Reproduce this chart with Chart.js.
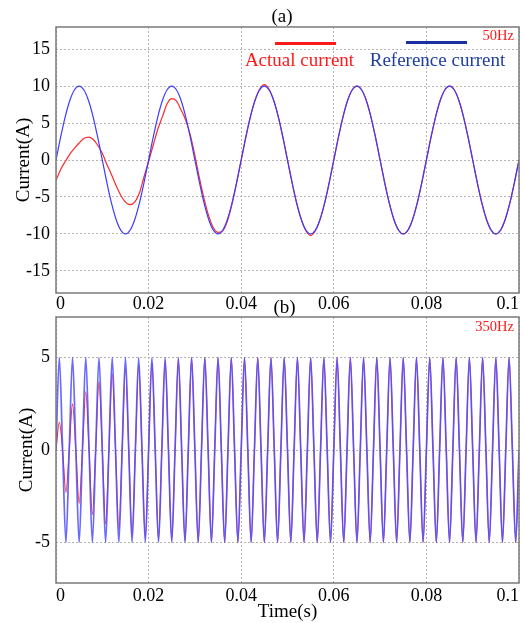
<!DOCTYPE html>
<html>
<head>
<meta charset="utf-8">
<script src="https://cdn.jsdelivr.net/npm/chart.js@4.4.1/dist/chart.umd.min.js"></script>
<style>
  body { margin: 0; background: #fff; }
  .wrap { position: relative; width: 524px; height: 623px; }
  #chartA { position: absolute; left: 0; top: 0; }
  #chartB { position: absolute; left: 0; top: 300px; }
</style>
</head>
<body>
<div class="wrap">
  <canvas id="chartA" width="524" height="310"></canvas>
  <canvas id="chartB" width="524" height="323"></canvas>
</div>
<script>
// (a) 50Hz, one sample every 1 ms
const dtA = 0.001;
const refA = [
  0, 3.09, 5.88, 8.09, 9.51, 10, 9.51, 8.09, 5.88, 3.09, 0, -3.09, -5.88, -8.09, -9.51, -10, -9.51, -8.09, -5.88, -3.09,
  0, 3.09, 5.88, 8.09, 9.51, 10, 9.51, 8.09, 5.88, 3.09, 0, -3.09, -5.88, -8.09, -9.51, -10, -9.51, -8.09, -5.88, -3.09,
  0, 3.09, 5.88, 8.09, 9.51, 10, 9.51, 8.09, 5.88, 3.09, 0, -3.09, -5.88, -8.09, -9.51, -10, -9.51, -8.09, -5.88, -3.09,
  0, 3.09, 5.88, 8.09, 9.51, 10, 9.51, 8.09, 5.88, 3.09, 0, -3.09, -5.88, -8.09, -9.51, -10, -9.51, -8.09, -5.88, -3.09,
  0, 3.09, 5.88, 8.09, 9.51, 10, 9.51, 8.09, 5.88, 3.09, 0, -3.09, -5.88, -8.09, -9.51, -10, -9.51, -8.09, -5.88, -3.09,
  0
];
const actA = [
  -2.8, -1.3, -0.2, 0.8, 1.6, 2.3, 2.9, 3.1, 2.8, 2.0, 0.9, -0.6, -2.0, -3.5, -4.8, -5.7, -6.05, -5.7, -4.5, -2.3,
  -0.2, 2.0, 4.2, 5.9, 7.6, 8.3, 8.0, 6.8, 5.4, 3.4, 0.6, -2.5, -5.3, -7.6, -9.2, -9.8, -9.6, -8.3, -6.0, -3.1,
  0, 3.1, 5.9, 8.1, 9.6, 10.2, 9.6, 8.1, 5.9, 3.1, 0, -3.1, -5.9, -8.1, -9.6, -10.2, -9.6, -8.1, -5.9, -3.1,
  0, 3.09, 5.88, 8.09, 9.51, 10, 9.51, 8.09, 5.88, 3.09, 0, -3.09, -5.88, -8.09, -9.51, -10, -9.51, -8.09, -5.88, -3.09,
  0, 3.09, 5.88, 8.09, 9.51, 10, 9.51, 8.09, 5.88, 3.09, 0, -3.09, -5.88, -8.09, -9.51, -10, -9.51, -8.09, -5.88, -3.09,
  0
];

// (b) 350Hz, one sample every quarter period
const dtB = 1 / 1400;
const refB = [
  0, 5, 0, -5, 0, 5, 0, -5, 0, 5, 0, -5, 0, 5, 0, -5, 0, 5, 0, -5,
  0, 5, 0, -5, 0, 5, 0, -5, 0, 5, 0, -5, 0, 5, 0, -5, 0, 5, 0, -5,
  0, 5, 0, -5, 0, 5, 0, -5, 0, 5, 0, -5, 0, 5, 0, -5, 0, 5, 0, -5,
  0, 5, 0, -5, 0, 5, 0, -5, 0, 5, 0, -5, 0, 5, 0, -5, 0, 5, 0, -5,
  0, 5, 0, -5, 0, 5, 0, -5, 0, 5, 0, -5, 0, 5, 0, -5, 0, 5, 0, -5,
  0, 5, 0, -5, 0, 5, 0, -5, 0, 5, 0, -5, 0, 5, 0, -5, 0, 5, 0, -5,
  0, 5, 0, -5, 0, 5, 0, -5, 0, 5, 0, -5, 0, 5, 0, -5, 0, 5, 0, -5,
  0
];
const actB = [
  0, 1.5, 0, -2.3, 0, 2.5, 0, -2.9, 0, 3.15, 0, -3.5, 0, 3.7, 0, -4.0, 0, 4.15, 0, -4.3,
  0, 4.4, 0, -4.6, 0, 4.6, 0, -4.75, 0, 4.75, 0, -4.85, 0, 4.85, 0, -4.9, 0, 4.9, 0, -4.95,
  0, 5, 0, -5, 0, 5, 0, -5, 0, 5, 0, -5, 0, 5, 0, -5, 0, 5, 0, -5,
  0, 5, 0, -5, 0, 5, 0, -5, 0, 5, 0, -5, 0, 5, 0, -5, 0, 5, 0, -5,
  0, 5, 0, -5, 0, 5, 0, -5, 0, 5, 0, -5, 0, 5, 0, -5, 0, 5, 0, -5,
  0, 5, 0, -5, 0, 5, 0, -5, 0, 5, 0, -5, 0, 5, 0, -5, 0, 5, 0, -5,
  0, 5, 0, -5, 0, 5, 0, -5, 0, 5, 0, -5, 0, 5, 0, -5, 0, 5, 0, -5,
  0
];

const xTicks = [0, 0.02, 0.04, 0.06, 0.08, 0.1];
const yTicksA = [-15, -10, -5, 0, 5, 10, 15];
const yTicksB = [-5, 0, 5];

const serif = 'Liberation Serif';
const toPts = (vals, dt) => vals.map((v, i) => ({ x: i * dt, y: v }));

// frame round the plot + free texts / legend marks
const decor = {
  id: 'decor',
  afterDatasetsDraw(chart, args, opts) {
    const { ctx, chartArea: a } = chart;
    ctx.save();
    ctx.strokeStyle = '#7a7a7a';
    ctx.lineWidth = 1.5;
    ctx.strokeRect(a.left, a.top, a.right - a.left, a.bottom - a.top);
    (opts.lines || []).forEach(l => {
      ctx.strokeStyle = l.color;
      ctx.lineWidth = l.width;
      ctx.beginPath();
      ctx.moveTo(l.x1, l.y);
      ctx.lineTo(l.x2, l.y);
      ctx.stroke();
    });
    (opts.texts || []).forEach(t => {
      ctx.font = t.size + 'px "' + serif + '"';
      ctx.fillStyle = t.color;
      ctx.textAlign = t.align || 'center';
      ctx.textBaseline = 'middle';
      ctx.fillText(t.text, t.x, t.y);
    });
    ctx.restore();
  }
};

function makeScales(yMin, yMax, yTicks, xHeight, xTitle, yTitlePad, xPad) {
  const grid = { color: '#b4b4b4', drawTicks: false };
  const border = { display: false, dash: [2, 2] };
  return {
    x: {
      type: 'linear', min: 0, max: 0.1,
      afterBuildTicks: s => { s.ticks = xTicks.map(v => ({ value: v })); },
      afterFit: s => { s.height = xHeight; },
      grid: grid, border: border,
      ticks: {
        color: '#000', font: { family: serif, size: 18 }, padding: xPad,
        maxRotation: 0, autoSkip: false, align: 'inner',
        callback: v => String(v)
      },
      title: {
        display: !!xTitle, text: xTitle, color: '#000',
        font: { family: serif, size: 19 }, padding: { top: 0, bottom: 0 }
      }
    },
    y: {
      min: yMin, max: yMax,
      afterBuildTicks: s => { s.ticks = yTicks.map(v => ({ value: v })); },
      afterFit: s => { s.width = 56; },
      grid: grid, border: border,
      ticks: { color: '#000', font: { family: serif, size: 18 }, padding: 6, callback: v => String(v) },
      title: {
        display: true, text: 'Current(A)', color: '#000',
        font: { family: serif, size: 19 }, padding: { top: yTitlePad, bottom: 0 }
      }
    }
  };
}

const lineStyle = { pointRadius: 0, borderWidth: 1.2, cubicInterpolationMode: 'monotone', fill: false };

new Chart(document.getElementById('chartA'), {
  type: 'line',
  data: {
    datasets: [
      Object.assign({ label: 'Reference current', data: toPts(refA, dtA), borderColor: '#3c3cff' }, lineStyle),
      Object.assign({ label: 'Actual current', data: toPts(actA, dtA), borderColor: '#ff2a2a' }, lineStyle)
    ]
  },
  options: {
    responsive: false, animation: false,
    layout: { padding: { top: 27, right: 5, left: 0, bottom: 0 } },
    scales: makeScales(-18, 18, yTicksA, 17, '', 13, 0),
    plugins: {
      legend: { display: false }, tooltip: { enabled: false },
      decor: {
        lines: [
          { x1: 275, x2: 336, y: 43.5, color: '#ff1a1a', width: 3 },
          { x1: 406, x2: 467, y: 42.5, color: '#1a30a0', width: 3 }
        ],
        texts: [
          { text: '(a)', x: 282, y: 17, size: 19, color: '#000' },
          { text: 'Actual current', x: 299.5, y: 61, size: 19, color: '#ff1a1a' },
          { text: 'Reference current', x: 437.5, y: 61, size: 19, color: '#2040a0' },
          { text: '50Hz', x: 514, y: 36, size: 14.5, color: '#ff1a1a', align: 'right' }
        ]
      }
    }
  },
  plugins: [decor]
});

new Chart(document.getElementById('chartB'), {
  type: 'line',
  data: {
    datasets: [
      Object.assign({}, lineStyle, { label: 'Reference current', data: toPts(refB, dtB), borderColor: 'rgba(80,80,255,0.85)', borderWidth: 1.7 }),
      Object.assign({}, lineStyle, { label: 'Actual current', data: toPts(actB, dtB), borderColor: '#ff2a2a', borderWidth: 1.1 })
    ]
  },
  options: {
    responsive: false, animation: false,
    layout: { padding: { top: 17, right: 5, left: 0, bottom: 0 } },
    scales: makeScales(-7.2, 7.2, yTicksB, 40, 'Time(s)', 16, 2),
    plugins: {
      legend: { display: false }, tooltip: { enabled: false },
      decor: {
        texts: [
          { text: '(b)', x: 284.5, y: 8, size: 19, color: '#000' },
          { text: '350Hz', x: 514, y: 27, size: 14.5, color: '#ff1a1a', align: 'right' }
        ]
      }
    }
  },
  plugins: [decor]
});
</script>
</body>
</html>
